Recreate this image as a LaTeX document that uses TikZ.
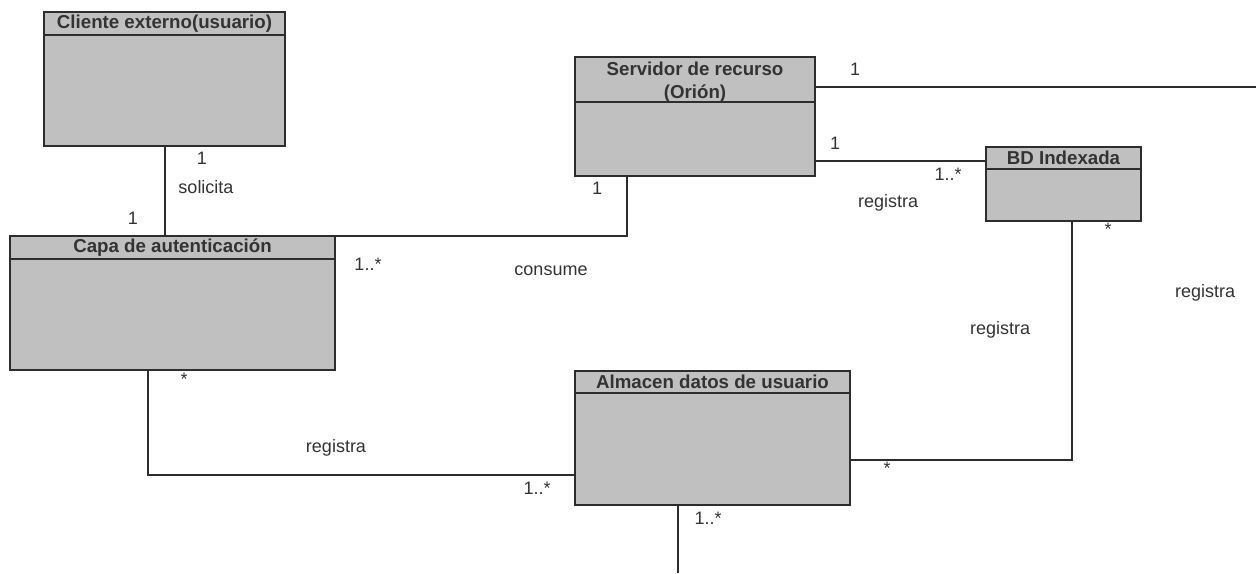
\documentclass[tikz,border=0pt]{standalone}
\usepackage{fontspec}
\setmainfont{Liberation Sans}
\usetikzlibrary{positioning}

\definecolor{grisclase}{RGB}{192,192,192}
\definecolor{linea}{RGB}{45,45,45}

\tikzset{
  titulo/.style={draw=linea, line width=1pt, fill=grisclase, inner sep=0pt,
    outer sep=0pt, anchor=north west, align=center, text=black!80,
    font=\fontsize{9.35}{11.5}\selectfont\bfseries},
  cuerpo/.style={draw=linea, line width=1pt, fill=grisclase, inner sep=0pt,
    outer sep=0pt},
  asoc/.style={draw=linea, line width=1pt},
  etiq/.style={inner sep=0pt, text=black!80, font=\fontsize{9}{11}\selectfont}
}

% clase: [opciones titulo], nombre, esquina, ancho, alto titulo, alto cuerpo, titulo
\newcommand{\clase}[7][]{%
  \node[cuerpo, minimum width=#4, minimum height=#6, anchor=north west]
    (#2-b) at ([yshift=-#5]#3) {};
  \node[titulo, minimum width=#4, minimum height=#5, #1] (#2-t) at (#3) {#7};
}

\begin{document}
\begin{tikzpicture}[x=0.5pt, y=-0.5pt]
  \useasboundingbox (0,0) rectangle (1256,573);

  \clase{cliente}{44,12}{120.5pt}{11.5pt}{55.5pt}{Cliente externo(usuario)}
  \clase{capa}{10,236}{162.5pt}{11.5pt}{55.5pt}{Capa de autenticación}
  \clase[text height=20.5pt, text depth=2pt]{servidor}{575,57}{120pt}{22.5pt}{37pt}{Servidor de recurso\\(Orión)}
  \clase{bd}{986,147}{77.5pt}{11pt}{26pt}{BD Indexada}
  \clase{almacen}{575,371}{137.5pt}{11pt}{56pt}{Almacen datos de usuario}

  \coordinate (fin1) at (1256,87);
  \coordinate (fin2) at (678,573);

  % asociaciones
  \draw[asoc] (cliente-b.south) -- (cliente-b.south |- capa-t.north);
  \draw[asoc] (capa-t.north east) -| ([xshift=26pt]servidor-b.south west);
  \draw[asoc] (fin1 -| servidor-t.east) -- (fin1);
  \draw[asoc] ([yshift=-1.5pt]bd-t.west) -- ([yshift=-1.5pt]bd-t.west -| servidor-b.east);
  \draw[asoc] ([xshift=4.25pt]bd-b.south) |- ([yshift=-5.5pt]almacen-b.east);
  \draw[asoc] ([xshift=-12.25pt]capa-b.south) |- ([yshift=-13pt]almacen-b.west);
  \draw[asoc] (fin2 |- almacen-b.south) -- (fin2);

  % multiplicidades y roles
  \node[etiq] (m1) at (202,158) {1};
  \node[etiq] (r1) at (206,187) {solicita};
  \node[etiq] (m2) at (133,218) {1};
  \node[etiq] (m3) at (368,264) {1..*};
  \node[etiq] (r2) at (551,271) {consume};
  \node[etiq] (m4) at (597,188) {1};
  \node[etiq] (m5) at (855,69) {1};
  \node[etiq] (m6) at (835,143) {1};
  \node[etiq] (m7) at (948,174) {1..*};
  \node[etiq] (r3) at (888,203) {registra};
  \node[etiq] (m8) at (1108,229) {*};
  \node[etiq] (r4) at (1000,330) {registra};
  \node[etiq] (r5) at (1205,293) {registra};
  \node[etiq] (m9) at (887,468) {*};
  \node[etiq] (m10) at (184,379) {*};
  \node[etiq] (r6) at (336,448) {registra};
  \node[etiq] (m11) at (537,488) {1..*};
  \node[etiq] (m12) at (708,518) {1..*};
\end{tikzpicture}
\end{document}
